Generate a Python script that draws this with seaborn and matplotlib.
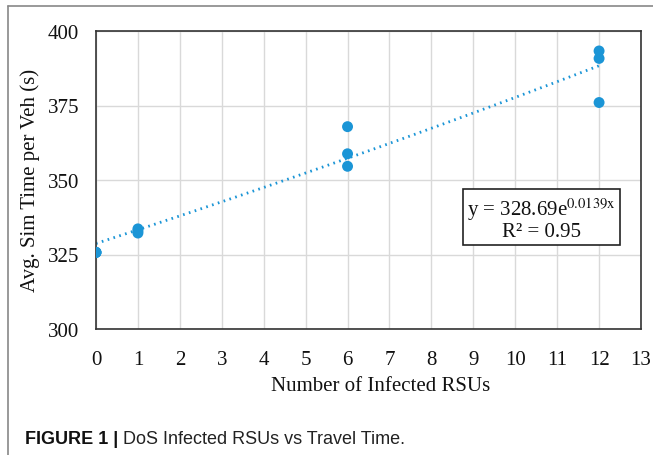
import numpy as np
import pandas as pd
import matplotlib
matplotlib.use("Agg")
import matplotlib.pyplot as plt
import seaborn as sns
from matplotlib.lines import Line2D

# ---- data ----
infected_rsus = [0, 0, 0, 1, 1, 1, 6, 6, 6, 12, 12, 12]
sim_time = [325.7, 325.7, 325.7, 333.6, 332.2, 332.9, 367.9, 358.8, 354.6, 393.3, 390.8, 376.0]
trend_a = 328.69
trend_b = 0.0139
trend_r2 = 0.95
x_ticks = list(range(0, 14))
y_ticks = [300, 325, 350, 375, 400]

df = pd.DataFrame({"rsus": infected_rsus, "time": sim_time})

sns.set_theme(style="white")
plt.rcParams["font.family"] = ["Liberation Serif", "DejaVu Serif"]

blue = "#1b95d6"
fig = plt.figure(figsize=(6.53, 4.56), dpi=100)
ax = fig.add_axes([96 / 653, 1 - 330 / 456, (641 - 96) / 653, (330 - 32) / 456])

# trend line (exponential fit from the chart's equation)
tx = np.linspace(min(infected_rsus), max(infected_rsus), 200)
trend = pd.DataFrame({"rsus": tx, "time": trend_a * np.exp(trend_b * tx)})
sns.lineplot(data=trend, x="rsus", y="time", ax=ax, color=blue, linewidth=2.0,
             linestyle=(0, (0.6, 1.6)), zorder=2)

sns.scatterplot(data=df, x="rsus", y="time", ax=ax, color=blue, s=62,
                edgecolor="none", zorder=3)

ax.set_xlim(0, 13)
ax.set_ylim(300, 400)
ax.set_xticks(x_ticks)
ax.set_yticks(y_ticks)
ax.set_xticklabels([str(t) for t in x_ticks], fontsize=15, color="#111111")
ax.set_yticklabels([str(t) for t in y_ticks], fontsize=15, color="#111111")
ax.tick_params(axis="y", length=0, pad=12)
ax.tick_params(axis="x", length=0, pad=15)
ax.grid(True, color="#d9d9d9", linewidth=1.0)
ax.set_axisbelow(True)
for s in ax.spines.values():
    s.set_visible(True)
    s.set_color("#333333")
    s.set_linewidth(1.2)

ax.set_xlabel("Number of Infected RSUs", fontsize=15, color="#111111")
ax.set_ylabel("Avg. Sim Time per Veh (s)", fontsize=15, color="#111111")
ax.xaxis.set_label_coords((381 - 96) / (641 - 96), -(377 - 330) / (330 - 32))
ax.yaxis.set_label_coords(-(96 - 40) / (641 - 96), (330 - 180) / (330 - 32))

# equation box
ax.text(10.62, 337.2, "y = 328.69e$^{\\mathrm{0.0139x}}$\nR² = %.2f" % trend_r2,
        fontsize=15, ha="center", va="center", color="#111111", linespacing=1.0,
        math_fontfamily="stix",
        bbox=dict(boxstyle="square,pad=0.2", facecolor="white", edgecolor="#222222", linewidth=1.2),
        zorder=4)

# figure frame lines (left and top)
fig.add_artist(Line2D([8 / 653, 8 / 653], [0, 1 - 7 / 456], transform=fig.transFigure,
                      color="#888888", linewidth=1.2))
fig.add_artist(Line2D([8 / 653, 1], [1 - 7 / 456, 1 - 7 / 456], transform=fig.transFigure,
                      color="#888888", linewidth=1.2))

# caption
t1 = fig.text(25 / 653, 1 - 440 / 456, "FIGURE 1 | ", fontsize=13, fontweight="bold",
              family=["Liberation Sans", "DejaVu Sans"], va="center", ha="left", color="#111111")
fig.canvas.draw()
bb = t1.get_window_extent(renderer=fig.canvas.get_renderer())
x2 = bb.x1 / fig.bbox.width
fig.text(x2, 1 - 440 / 456, "DoS Infected RSUs vs Travel Time.", fontsize=13,
         family=["Liberation Sans", "DejaVu Sans"], va="center", ha="left", color="#222222")

fig.savefig("out.png", dpi=100)
